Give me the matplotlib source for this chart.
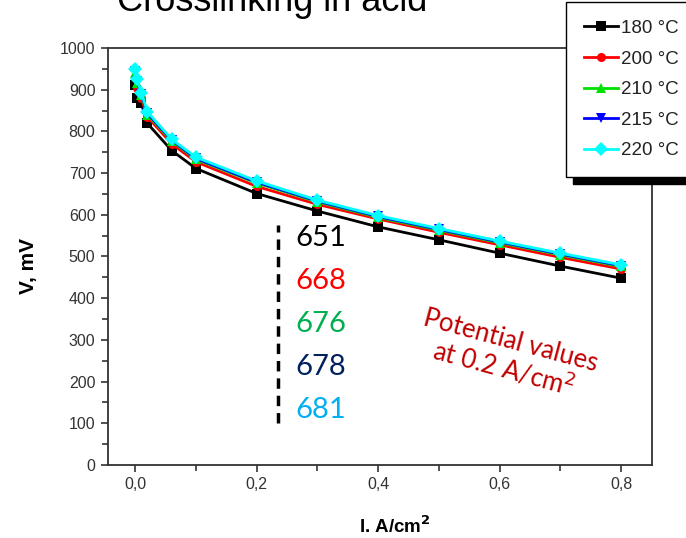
import matplotlib.pyplot as plt
from matplotlib.ticker import MultipleLocator, FuncFormatter

# current density, A/cm2
current = [0, 0.003, 0.01, 0.02, 0.06, 0.1, 0.2, 0.3, 0.4, 0.5, 0.6, 0.7, 0.8]

# cell voltage, mV, for each crosslinking temperature
v180 = [911, 880, 867, 819, 754, 711, 651, 609, 571, 540, 508, 477, 448]
v200 = [930, 905, 880, 835, 770, 727, 668, 625, 590, 558, 528, 498, 470]
v210 = [940, 915, 887, 840, 777, 733, 676, 631, 594, 563, 533, 504, 476]
v215 = [945, 920, 890, 843, 779, 735, 678, 633, 596, 565, 535, 506, 478]
v220 = [950, 925, 893, 847, 781, 738, 681, 635, 598, 567, 537, 508, 480]

labels = ["180 °C", "200 °C", "210 °C", "215 °C", "220 °C"]
at_02 = ["651", "668", "676", "678", "681"]

series = [v180, v200, v210, v215, v220]
colors = ["black", "red", "#00e000", "blue", "cyan"]
markers = ["s", "o", "^", "v", "D"]
msizes = [6.5, 6.5, 7, 7, 7.5]
text_colors = ["black", "red", "#00b050", "#002060", "#00b0f0"]

tick_font = "Liberation Sans"

fig = plt.figure(figsize=(6.86, 5.38), dpi=100)
ax = fig.add_axes([0.1574, 0.1357, 0.793, 0.7751])

for v, c, m, ms, lab in zip(series, colors, markers, msizes, labels):
    ax.plot(current, v, color=c, marker=m, markersize=ms, linewidth=2,
            markeredgewidth=0, label=lab)

ax.set_xlim(-0.045, 0.851)
ax.set_ylim(0, 1000)
ax.xaxis.set_major_locator(MultipleLocator(0.2))
ax.xaxis.set_minor_locator(MultipleLocator(0.1))
ax.yaxis.set_major_locator(MultipleLocator(100))
ax.yaxis.set_minor_locator(MultipleLocator(50))
ax.xaxis.set_major_formatter(FuncFormatter(lambda x, p: f"{x:.1f}".replace(".", ",")))
ax.tick_params(which="both", direction="out", top=False, right=False,
               color="#333333", width=1.2)
ax.tick_params(which="major", length=5, pad=4)
ax.tick_params(which="minor", length=4)
for lbl in ax.get_xticklabels() + ax.get_yticklabels():
    lbl.set_family(tick_font)
    lbl.set_fontsize(11.5)
    lbl.set_color("#333333")
for s in ax.spines.values():
    s.set_color("#333333")
    s.set_linewidth(1.3)

ax.set_ylabel("V, mV", fontsize=15, fontweight="bold", family="Liberation Sans")
ax.yaxis.set_label_coords(-0.128, 0.477)
ax.set_xlabel("I. A/cm$^\\mathbf{2}$", fontsize=13.5, fontweight="bold", family="Liberation Sans")
ax.xaxis.set_label_coords(0.528, -0.122)

# title, partly cut by the top edge
fig.text(0.397, 0.979, "Crosslinking in acid", ha="center", va="baseline",
         fontsize=26, family="Liberation Sans")

# dashed marker for the values at 0.2 A/cm2
ax.plot([0.235, 0.235], [100, 575], color="black", linestyle=(0, (3, 2)), linewidth=2.5)
for i, (t, c) in enumerate(zip(at_02, text_colors)):
    ax.text(0.264, 545 - i * 103.5, t, color=c, fontsize=21, family="Lato",
            ha="left", va="center")

ax.text(0.612, 262, "Potential values\nat 0.2 A/cm$^2$", color="#c00000", fontsize=18.5,
        family="Lato", rotation=-15, ha="center", va="center",
        rotation_mode="anchor", linespacing=1.05)

leg = ax.legend(loc="upper left", bbox_to_anchor=(566 / 686, 1 - 2 / 538),
                bbox_transform=fig.transFigure, frameon=True, fancybox=False,
                edgecolor="black", handlelength=1.8, handletextpad=0.2,
                labelspacing=0.72, borderpad=0.95, borderaxespad=0,
                shadow={"color": "black", "alpha": 1, "ox": 5, "oy": -4.5},
                prop={"family": tick_font, "size": 13.5})
leg.get_frame().set_linewidth(1.0)
for t in leg.get_texts():
    t.set_color("#222222")

fig.savefig("out.png", dpi=100)
